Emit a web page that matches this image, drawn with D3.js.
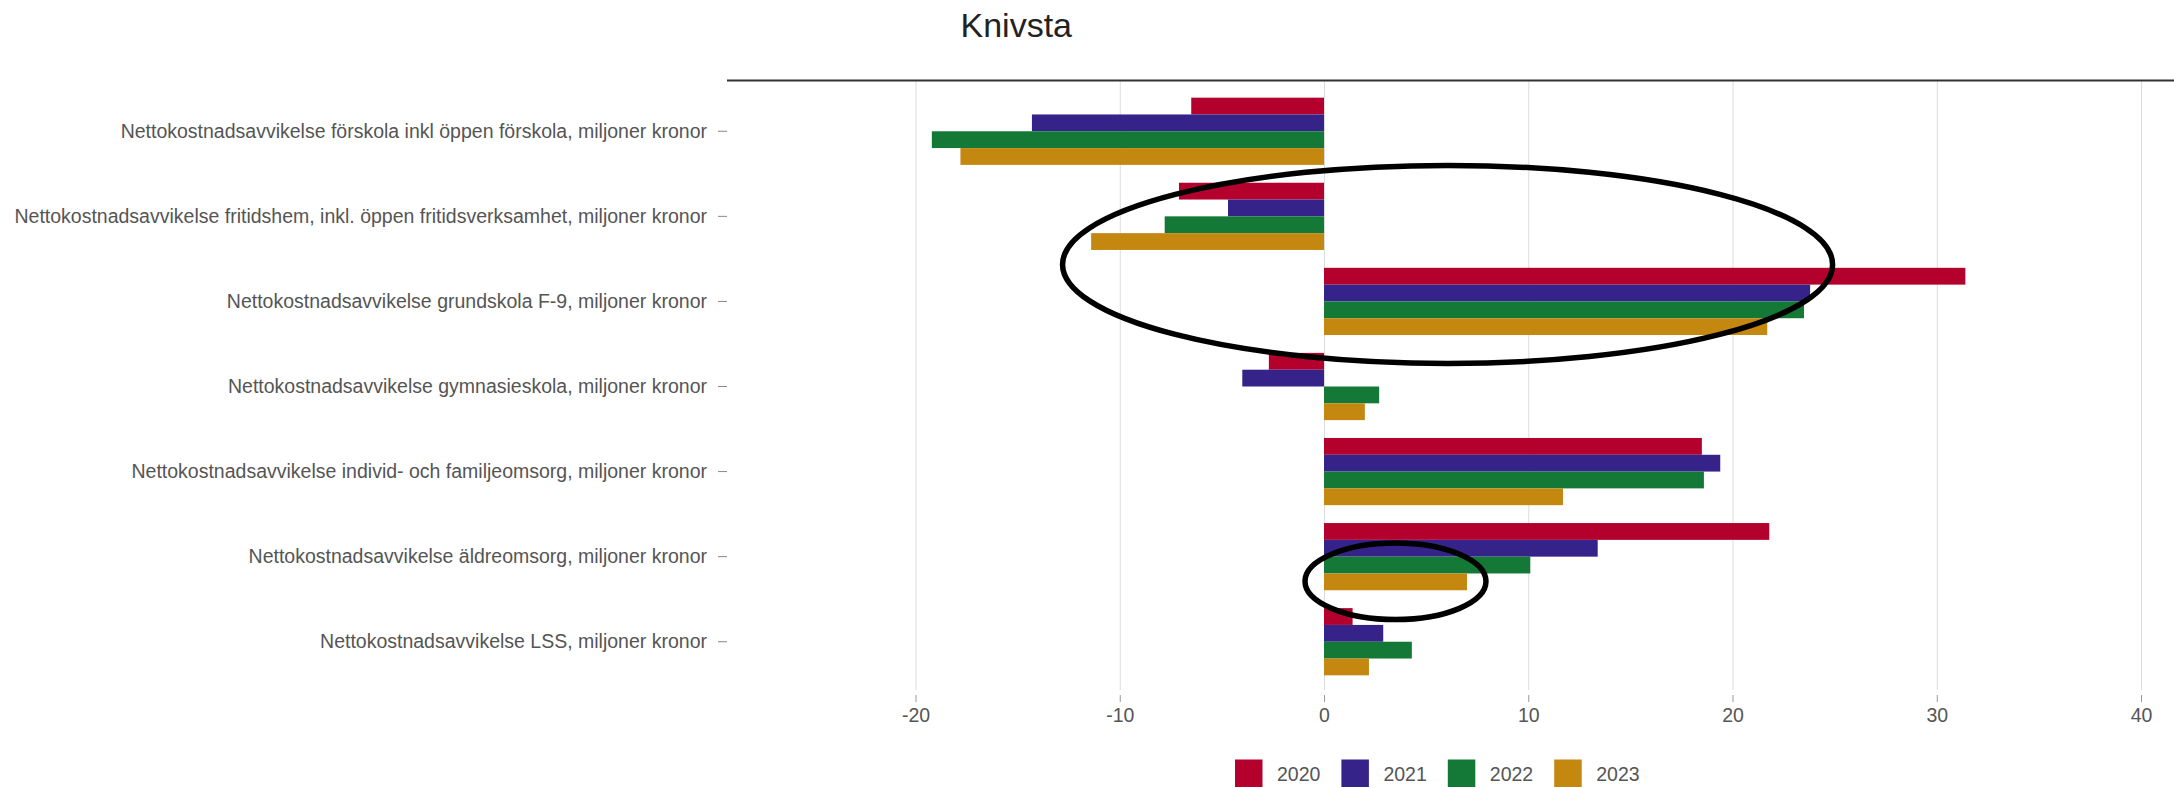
<!DOCTYPE html>
<html>
<head>
<meta charset="utf-8">
<script src="https://cdn.jsdelivr.net/npm/d3@7"></script>
<style>
  body { margin: 0; background: #fff; }
  svg { display: block; font-family: 'Liberation Sans', Arial, sans-serif; }
</style>
</head>
<body>
<div id="chart"></div>
<script>
// Data
const categories = [
  'Nettokostnadsavvikelse förskola inkl öppen förskola, miljoner kronor',
  'Nettokostnadsavvikelse fritidshem, inkl. öppen fritidsverksamhet, miljoner kronor',
  'Nettokostnadsavvikelse grundskola F-9, miljoner kronor',
  'Nettokostnadsavvikelse gymnasieskola, miljoner kronor',
  'Nettokostnadsavvikelse individ- och familjeomsorg, miljoner kronor',
  'Nettokostnadsavvikelse äldreomsorg, miljoner kronor',
  'Nettokostnadsavvikelse LSS, miljoner kronor'
]
const years = ['2020', '2021', '2022', '2023']
const values2020 = [-6.5, -7.1, 31.4, -2.7, 18.5, 21.8, 1.4]
const values2021 = [-14.3, -4.7, 23.8, -4.0, 19.4, 13.4, 2.9]
const values2022 = [-19.2, -7.8, 23.5, 2.7, 18.6, 10.1, 4.3]
const values2023 = [-17.8, -11.4, 21.7, 2.0, 11.7, 7.0, 2.2]
const yearColors = ['#b3002c', '#35238a', '#147836', '#c4870f']
const xTickValues = [-20, -10, 0, 10, 20, 30, 40]
const title = 'Knivsta'

// Hand-drawn marker ellipses: centre in (value, category index), radii in (value, category step)
const ellipses = [
  { cx: 6.05, cy: 1.565, rx: 18.85, ry: 1.164 },
  { cx: 3.5, cy: 5.29, rx: 4.43, ry: 0.45 }
]

const seriesValues = [values2020, values2021, values2022, values2023]
const rows = categories.map((c, i) => ({
  category: c,
  values: years.map((yr, j) => ({ year: yr, value: seriesValues[j][i], color: yearColors[j] }))
}))

const width = 2174
const height = 788
const plotTop = 81
const plotBottom = 690
const fontSize = 19.5

const svg = d3.select('#chart')
  .append('svg')
  .attr('width', width)
  .attr('height', height)

// Scales
const x = d3.scaleLinear().domain([-20, 40]).range([915.5, 2141])
const y = d3.scaleBand()
  .domain(categories)
  .range([plotTop + 0.5, plotBottom + 1.5])
  .paddingInner(0.21)
  .paddingOuter(0.19)
const yInner = d3.scaleBand().domain(years).range([0, y.bandwidth()])

// Title
svg.append('text')
  .attr('x', 960.5)
  .attr('y', 37)
  .attr('font-size', 34)
  .attr('fill', '#222')
  .text(title)

// Gridlines
svg.append('g')
  .attr('class', 'grid')
  .attr('transform', `translate(0, ${plotBottom})`)
  .call(d3.axisBottom(x).tickValues(xTickValues).tickSize(-(plotBottom - plotTop)).tickFormat(''))
  .call(g => g.select('.domain').remove())
  .call(g => g.selectAll('line').attr('stroke', '#dcdcdc'))

// Bottom axis
svg.append('g')
  .attr('transform', `translate(0, ${plotBottom + 5})`)
  .call(d3.axisBottom(x).tickValues(xTickValues).tickSize(7).tickPadding(6).tickFormat(d => String(d)))
  .call(g => g.select('.domain').remove())
  .call(g => g.selectAll('line').attr('stroke', '#999'))
  .call(g => g.selectAll('text')
    .attr('font-family', null)
    .attr('font-size', fontSize)
    .attr('fill', '#555'))

// Left axis - category labels
svg.append('g')
  .attr('transform', 'translate(727, 0)')
  .call(d3.axisLeft(y).tickSize(9).tickPadding(11))
  .call(g => g.select('.domain').remove())
  .call(g => g.selectAll('line').attr('stroke', '#888'))
  .call(g => g.selectAll('text')
    .attr('font-family', null)
    .attr('font-size', fontSize)
    .attr('fill', '#555'))

// Top rule
svg.append('line')
  .attr('x1', 727)
  .attr('x2', width)
  .attr('y1', plotTop - 0.5)
  .attr('y2', plotTop - 0.5)
  .attr('stroke', '#333')
  .attr('stroke-width', 2)

// Bars
const groups = svg.append('g')
  .selectAll('g')
  .data(rows)
  .join('g')
  .attr('transform', d => `translate(0, ${y(d.category)})`)

groups.selectAll('rect')
  .data(d => d.values)
  .join('rect')
  .attr('x', d => x(Math.min(0, d.value)))
  .attr('y', d => yInner(d.year))
  .attr('width', d => Math.abs(x(d.value) - x(0)))
  .attr('height', yInner.bandwidth())
  .attr('fill', d => d.color)

// Hand-drawn ellipses
const firstCenter = y(categories[0]) + y.bandwidth() / 2
svg.append('g')
  .selectAll('ellipse')
  .data(ellipses)
  .join('ellipse')
  .attr('cx', d => x(d.cx))
  .attr('cy', d => firstCenter + d.cy * y.step())
  .attr('rx', d => x(d.rx) - x(0))
  .attr('ry', d => d.ry * y.step())
  .attr('fill', 'none')
  .attr('stroke', '#000')
  .attr('stroke-width', 5.5)

// Legend
const legend = svg.append('g')
  .attr('transform', 'translate(1235, 759.5)')

const legendItems = legend.selectAll('g')
  .data(years)
  .join('g')
  .attr('transform', (d, i) => `translate(${i * 106.4}, 0)`)

legendItems.append('rect')
  .attr('width', 27.5)
  .attr('height', 27.5)
  .attr('fill', (d, i) => yearColors[i])

legendItems.append('text')
  .attr('x', 42)
  .attr('y', 21)
  .attr('font-size', fontSize)
  .attr('fill', '#555')
  .text(d => d)
</script>
</body>
</html>
